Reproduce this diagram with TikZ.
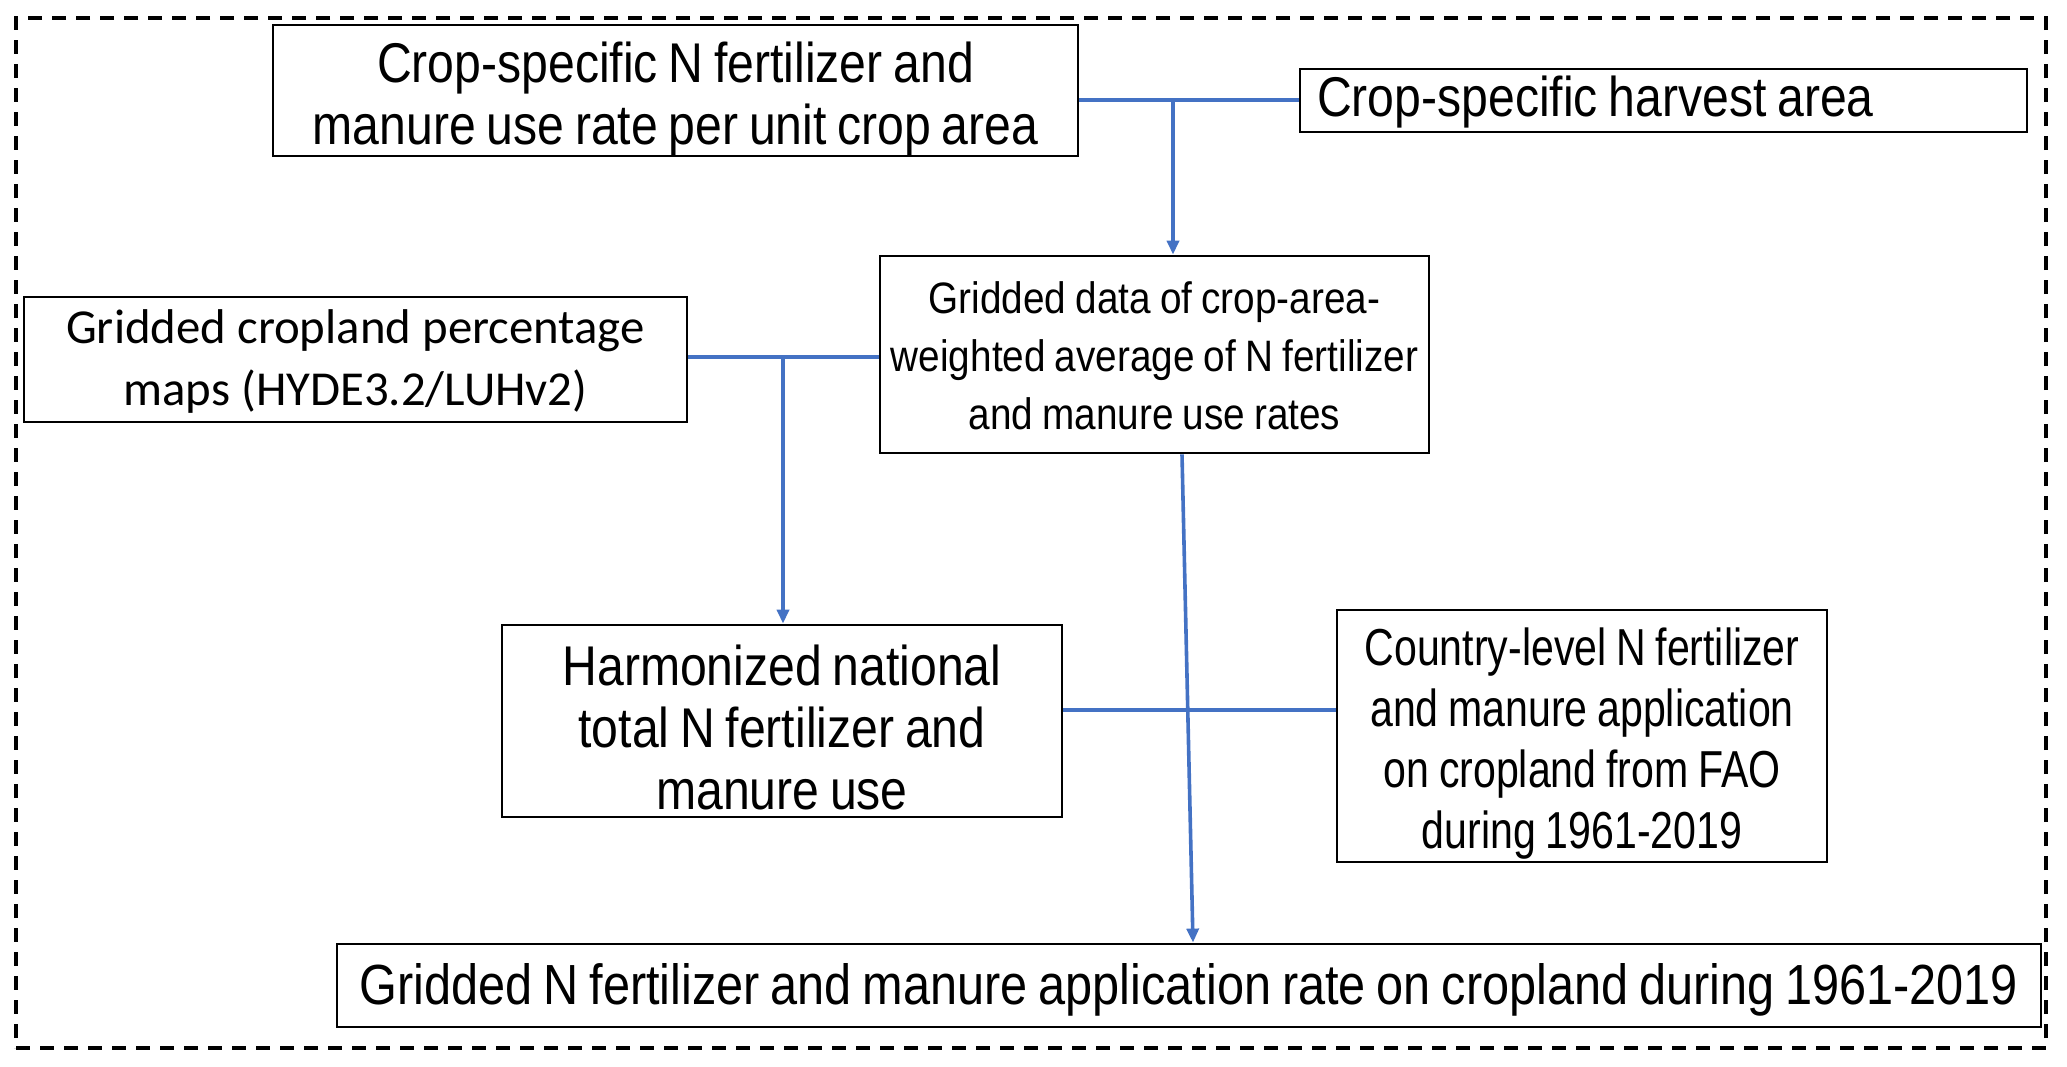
\documentclass[tikz,border=0pt]{standalone}
\usepackage{fontspec}
\setmainfont{Liberation Sans}
\newfontfamily\narrowfont{Liberation Sans}[FakeStretch=0.86,WordSpace=0.8]
\newfontfamily\cfont{Liberation Sans}[FakeStretch=0.88,WordSpace=0.85]
\newfontfamily\ffont{Liberation Sans}[FakeStretch=0.79,WordSpace=0.85]
\newfontfamily\calfont{Carlito}
\usetikzlibrary{arrows.meta}
\definecolor{linkblue}{HTML}{4472C4}
\begin{document}
\begin{tikzpicture}[x=0.5pt,y=-0.5pt,
  box/.style={draw=black, line width=1.4pt, inner sep=0pt, fill=white},
  txt/.style={inner sep=0pt, align=center},
  nfont/.style={font=\narrowfont\fontsize{28}{31}\selectfont},
  link/.style={draw=linkblue, line width=1.8pt},
  arr/.style={link, -{Triangle[length=7pt,width=6pt]}}]
\useasboundingbox (0,0) rectangle (2067,1066);
\node[draw=black, line width=1.6pt, dash pattern=on 7pt off 5pt, minimum width=1015pt, minimum height=515pt, inner sep=0pt] (frame) at (1031,533) {};

\node[box, minimum width=402.5pt, minimum height=65.5pt] (A) at (675.5,90.5) {};
\node[txt, nfont] (At) at ([yshift=-4.5pt]A.center)
  {Crop-specific N fertilizer and\\manure use rate per unit crop area};

\node[box, minimum width=363.5pt, minimum height=31.5pt] (B) at (1663.5,100.5) {};
\node[txt, nfont, anchor=west] (Bt) at ([xshift=9pt,yshift=-1pt]B.west)
  {Crop-specific harvest area};

\node[box, minimum width=274.5pt, minimum height=98.5pt] (C) at (1154.5,354.5) {};
\node[txt, font=\cfont\fontsize{22}{29}\selectfont] (Ct) at ([yshift=-0.5pt]C.center)
  {Gridded data of crop-area-\\weighted average of N fertilizer\\and manure use rates};

\node[box, minimum width=331.5pt, minimum height=62.5pt] (D) at (355.5,359.5) {};
\node[txt, font=\calfont\fontsize{24.4}{31}\selectfont] (Dt) at ([yshift=-1pt]D.center)
  {Gridded cropland percentage\\maps (HYDE3.2/LUHv2)};

\node[box, minimum width=280pt, minimum height=96pt] (E) at (782,721) {};
\node[txt, nfont] (Et) at ([yshift=-3pt]E.center)
  {Harmonized national\\total N fertilizer and\\manure use};

\node[box, minimum width=245pt, minimum height=126pt] (F) at (1582,736) {};
\node[txt, font=\ffont\fontsize{26}{30.5}\selectfont] (Ft) at ([yshift=-4pt]F.center)
  {Country-level N fertilizer\\and manure application\\on cropland from FAO\\during 1961-2019};

\node[box, minimum width=852pt, minimum height=41.5pt] (G) at (1189,985.5) {};
\node[txt, font=\narrowfont\fontsize{28.3}{31}\selectfont] (Gt) at ([yshift=-2pt]G.center)
  {Gridded N fertilizer and manure application rate on cropland during 1961-2019};

\coordinate (j1) at (1173,100);
\coordinate (j2) at (783,357);
\coordinate (j3) at (1160,710);
\coordinate (c1) at (1182,0);
\coordinate (g1) at (1193,0);

\draw[link] (j1 -| A.east) -- (j1 -| B.west);
\draw[arr] (j1) -- (j1 |- C.north);
\draw[link] (j2 -| D.east) -- (j2 -| C.west);
\draw[arr] (j2) -- (j2 |- E.north);
\draw[link] (j3 -| E.east) -- (j3 -| F.west);
\draw[arr] (c1 |- C.south) -- (g1 |- G.north);
\end{tikzpicture}
\end{document}
